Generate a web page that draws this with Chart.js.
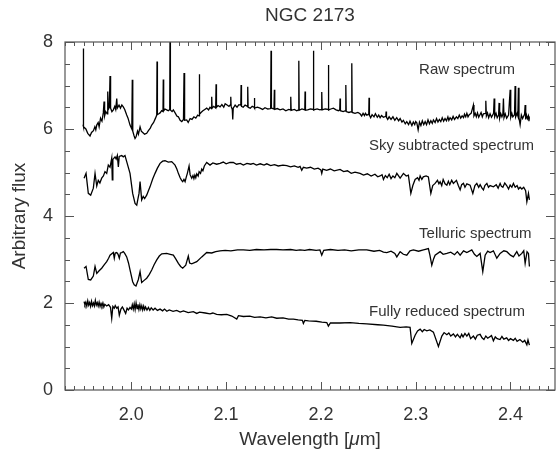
<!DOCTYPE html>
<html>
<head>
<meta charset="utf-8">
<script src="https://cdn.jsdelivr.net/npm/chart.js@4"></script>
<style>
  html, body { margin: 0; padding: 0; background: #fff; }
  #wrap { width: 556px; height: 459px; }
</style>
</head>
<body>
<div id="wrap"><canvas id="myChart" width="556" height="459"></canvas></div>
<script>
// spectra: [wavelength (um), arbitrary flux]
const rawSpectrum = [
  [1.9490, 6.10], [1.9493, 7.85], [1.9497, 6.05], [1.9520, 6.00], [1.9540, 5.90], [1.9564, 5.84], [1.9580, 5.92],
  [1.9600, 5.96], [1.9615, 6.05], [1.9625, 5.98], [1.9635, 6.09], [1.9650, 6.15], [1.9660, 6.05], [1.9675, 6.25],
  [1.9690, 6.18], [1.9704, 6.37], [1.9712, 6.63], [1.9718, 6.30], [1.9730, 6.40], [1.9745, 6.35], [1.9751, 6.86],
  [1.9757, 6.45], [1.9768, 6.50], [1.9775, 7.22], [1.9781, 6.48], [1.9795, 6.40], [1.9810, 6.44], [1.9825, 6.52],
  [1.9835, 6.45], [1.9846, 6.70], [1.9852, 6.48], [1.9870, 6.55], [1.9885, 6.48], [1.9900, 6.55], [1.9915, 6.51],
  [1.9930, 6.45], [1.9951, 6.32], [1.9965, 6.25], [1.9986, 6.09], [2.0005, 6.00], [2.0010, 7.13], [2.0015, 5.95],
  [2.0028, 5.85], [2.0039, 5.78], [2.0050, 5.82], [2.0065, 5.95], [2.0075, 5.88], [2.0092, 6.05], [2.0105, 5.95],
  [2.0120, 5.92], [2.0140, 5.88], [2.0162, 5.90], [2.0180, 5.96], [2.0200, 6.02], [2.0215, 6.09], [2.0235, 6.15],
  [2.0255, 6.25], [2.0268, 6.32], [2.0271, 7.55], [2.0275, 6.33], [2.0290, 6.35], [2.0303, 6.37], [2.0320, 6.42],
  [2.0334, 6.40], [2.0337, 7.14], [2.0341, 6.42], [2.0355, 6.46], [2.0373, 6.44], [2.0390, 6.42], [2.0405, 6.45],
  [2.0408, 8.20], [2.0412, 6.44], [2.0430, 6.40], [2.0443, 6.44], [2.0465, 6.36], [2.0480, 6.30], [2.0496, 6.28],
  [2.0515, 6.20], [2.0532, 6.17], [2.0550, 6.22], [2.0556, 7.29], [2.0562, 6.20], [2.0584, 6.21], [2.0600, 6.15],
  [2.0620, 6.24], [2.0640, 6.22], [2.0660, 6.28], [2.0680, 6.25], [2.0700, 6.32], [2.0714, 6.30], [2.0717, 7.26],
  [2.0721, 6.34], [2.0735, 6.38], [2.0755, 6.42], [2.0775, 6.45], [2.0795, 6.48], [2.0815, 6.44], [2.0830, 6.50],
  [2.0845, 6.47], [2.0848, 6.74], [2.0852, 6.48], [2.0870, 6.52], [2.0890, 6.48], [2.0894, 7.03], [2.0898, 6.50],
  [2.0915, 6.54], [2.0936, 6.51], [2.0955, 6.56], [2.0975, 6.50], [2.0990, 6.58], [2.1010, 6.55], [2.1030, 6.52],
  [2.1046, 6.56], [2.1049, 6.74], [2.1053, 6.52], [2.1065, 6.45], [2.1070, 6.22], [2.1075, 6.48], [2.1095, 6.55],
  [2.1115, 6.50], [2.1135, 6.56], [2.1155, 6.55], [2.1158, 7.01], [2.1162, 6.52], [2.1180, 6.50], [2.1200, 6.55],
  [2.1225, 6.52], [2.1228, 6.97], [2.1232, 6.50], [2.1255, 6.48], [2.1275, 6.52], [2.1295, 6.50], [2.1298, 6.71],
  [2.1302, 6.48], [2.1330, 6.50], [2.1358, 6.48], [2.1385, 6.45], [2.1410, 6.49], [2.1440, 6.46], [2.1470, 6.47],
  [2.1474, 7.80], [2.1478, 6.48], [2.1505, 6.46], [2.1509, 6.90], [2.1513, 6.45], [2.1540, 6.47], [2.1569, 6.44],
  [2.1600, 6.46], [2.1630, 6.42], [2.1660, 6.45], [2.1679, 6.44], [2.1682, 6.74], [2.1686, 6.43], [2.1720, 6.45],
  [2.1745, 6.42], [2.1764, 6.44], [2.1767, 7.57], [2.1771, 6.43], [2.1800, 6.46], [2.1830, 6.44], [2.1833, 6.86],
  [2.1837, 6.43], [2.1860, 6.44], [2.1890, 6.46], [2.1918, 6.45], [2.1921, 7.80], [2.1925, 6.44], [2.1960, 6.46],
  [2.1990, 6.44], [2.2006, 6.45], [2.2009, 6.85], [2.2013, 6.44], [2.2045, 6.46], [2.2076, 6.45], [2.2079, 7.47],
  [2.2083, 6.44], [2.2105, 6.46], [2.2132, 6.48], [2.2160, 6.44], [2.2185, 6.42], [2.2199, 6.44], [2.2202, 6.70],
  [2.2206, 6.42], [2.2235, 6.40], [2.2260, 6.42], [2.2263, 7.01], [2.2267, 6.40], [2.2295, 6.38], [2.2323, 6.40],
  [2.2326, 7.51], [2.2330, 6.38], [2.2360, 6.36], [2.2390, 6.38], [2.2413, 6.35], [2.2430, 6.30], [2.2445, 6.36],
  [2.2460, 6.31], [2.2470, 6.36], [2.2484, 6.32], [2.2505, 6.34], [2.2508, 6.72], [2.2512, 6.32], [2.2525, 6.26],
  [2.2540, 6.33], [2.2560, 6.28], [2.2575, 6.35], [2.2595, 6.27], [2.2610, 6.32], [2.2625, 6.26], [2.2640, 6.31],
  [2.2659, 6.27], [2.2685, 6.29], [2.2688, 6.40], [2.2692, 6.27], [2.2705, 6.22], [2.2720, 6.28], [2.2740, 6.22],
  [2.2760, 6.28], [2.2780, 6.20], [2.2800, 6.26], [2.2820, 6.19], [2.2836, 6.24], [2.2855, 6.16], [2.2870, 6.20],
  [2.2890, 6.12], [2.2906, 6.17], [2.2925, 6.10], [2.2940, 6.18], [2.2960, 6.08], [2.2975, 6.16], [2.2990, 6.10],
  [2.3000, 6.17], [2.3012, 6.14], [2.3026, 5.98], [2.3040, 6.16], [2.3055, 6.08], [2.3070, 6.19], [2.3085, 6.10],
  [2.3100, 6.17], [2.3115, 6.10], [2.3130, 6.21], [2.3145, 6.12], [2.3160, 6.19], [2.3175, 6.13], [2.3187, 6.21],
  [2.3205, 6.15], [2.3220, 6.24], [2.3235, 6.16], [2.3250, 6.22], [2.3265, 6.17], [2.3280, 6.26], [2.3295, 6.18],
  [2.3310, 6.24], [2.3325, 6.19], [2.3340, 6.28], [2.3350, 6.20], [2.3363, 6.26], [2.3380, 6.21], [2.3395, 6.29],
  [2.3410, 6.22], [2.3430, 6.28], [2.3445, 6.24], [2.3460, 6.32], [2.3475, 6.25], [2.3490, 6.30], [2.3505, 6.26],
  [2.3515, 6.34], [2.3528, 6.28], [2.3540, 6.36], [2.3552, 6.28], [2.3565, 6.33], [2.3585, 6.36], [2.3609, 6.55],
  [2.3615, 6.30], [2.3628, 6.36], [2.3640, 6.28], [2.3652, 6.37], [2.3665, 6.27], [2.3690, 6.38], [2.3703, 6.28],
  [2.3715, 6.35], [2.3735, 6.36], [2.3740, 6.65], [2.3746, 6.30], [2.3758, 6.37], [2.3770, 6.26], [2.3785, 6.35],
  [2.3800, 6.27], [2.3822, 6.36], [2.3828, 6.70], [2.3834, 6.28], [2.3848, 6.36], [2.3860, 6.26], [2.3875, 6.32],
  [2.3880, 6.60], [2.3886, 6.25], [2.3898, 6.35], [2.3910, 6.28], [2.3920, 6.34], [2.3926, 6.70], [2.3932, 6.26],
  [2.3945, 6.35], [2.3960, 6.25], [2.3980, 6.32], [2.3997, 6.90], [2.4003, 6.27], [2.4015, 6.36], [2.4025, 6.28],
  [2.4043, 6.33], [2.4049, 6.99], [2.4055, 6.28], [2.4070, 6.36], [2.4078, 6.30], [2.4084, 6.95], [2.4090, 6.26],
  [2.4102, 6.10], [2.4115, 6.32], [2.4128, 6.24], [2.4140, 6.30], [2.4149, 6.34], [2.4155, 6.55], [2.4161, 6.22],
  [2.4170, 6.32], [2.4180, 6.24], [2.4190, 6.30], [2.4195, 6.18], [2.4200, 6.27]
];

const skySubtracted = [
  [1.9501, 4.87], [1.9522, 4.98], [1.9546, 4.52], [1.9571, 4.48], [1.9599, 4.64], [1.9617, 4.98], [1.9635, 4.69],
  [1.9651, 4.82], [1.9668, 4.76], [1.9687, 4.87], [1.9705, 4.92], [1.9722, 5.02], [1.9740, 4.98], [1.9757, 5.17],
  [1.9775, 5.12], [1.9793, 5.33], [1.9799, 4.83], [1.9805, 5.30], [1.9828, 5.36], [1.9840, 5.31], [1.9852, 5.39],
  [1.9863, 5.13], [1.9872, 5.37], [1.9898, 5.39], [1.9915, 5.36], [1.9933, 5.39], [1.9951, 5.25], [1.9986, 4.98],
  [2.0014, 4.52], [2.0039, 4.29], [2.0057, 4.25], [2.0070, 4.40], [2.0081, 4.52], [2.0092, 4.79], [2.0109, 4.37],
  [2.0125, 4.45], [2.0140, 4.40], [2.0162, 4.48], [2.0180, 4.58], [2.0197, 4.67], [2.0225, 4.85], [2.0250, 4.98],
  [2.0275, 5.10], [2.0303, 5.21], [2.0330, 5.26], [2.0355, 5.27], [2.0390, 5.24], [2.0426, 5.25], [2.0461, 5.17],
  [2.0480, 5.08], [2.0496, 4.98], [2.0515, 4.88], [2.0530, 4.82], [2.0542, 4.79], [2.0555, 4.84], [2.0567, 4.79],
  [2.0580, 4.90], [2.0591, 4.98], [2.0609, 5.15], [2.0620, 4.95], [2.0637, 4.87], [2.0650, 4.93], [2.0660, 4.86],
  [2.0670, 4.94], [2.0680, 4.88], [2.0690, 4.97], [2.0705, 4.92], [2.0715, 5.02], [2.0730, 4.98], [2.0743, 5.08],
  [2.0755, 5.04], [2.0770, 5.15], [2.0795, 5.23], [2.0830, 5.17], [2.0860, 5.22], [2.0900, 5.19], [2.0936, 5.21],
  [2.0970, 5.24], [2.1000, 5.20], [2.1040, 5.23], [2.1076, 5.23], [2.1110, 5.19], [2.1150, 5.21], [2.1182, 5.17],
  [2.1220, 5.21], [2.1260, 5.19], [2.1287, 5.21], [2.1320, 5.17], [2.1360, 5.20], [2.1400, 5.17], [2.1429, 5.20],
  [2.1470, 5.16], [2.1510, 5.18], [2.1550, 5.15], [2.1600, 5.17], [2.1640, 5.16], [2.1680, 5.13], [2.1720, 5.15],
  [2.1760, 5.12], [2.1780, 5.14], [2.1798, 5.05], [2.1815, 5.12], [2.1850, 5.10], [2.1890, 5.12], [2.1930, 5.08],
  [2.1970, 5.10], [2.2000, 5.06], [2.2009, 4.98], [2.2020, 5.08], [2.2060, 5.05], [2.2100, 5.08], [2.2140, 5.04],
  [2.2202, 5.07], [2.2240, 5.02], [2.2280, 5.04], [2.2320, 4.98], [2.2360, 5.01], [2.2413, 4.98], [2.2450, 4.94],
  [2.2490, 4.97], [2.2530, 4.92], [2.2570, 4.96], [2.2600, 4.90], [2.2624, 4.92], [2.2645, 4.95], [2.2660, 4.84],
  [2.2680, 4.93], [2.2700, 4.88], [2.2720, 4.96], [2.2740, 4.86], [2.2760, 4.92], [2.2780, 4.88], [2.2801, 4.98],
  [2.2836, 4.87], [2.2871, 4.98], [2.2900, 4.92], [2.2923, 4.94], [2.2949, 4.52], [2.2970, 4.70], [2.2994, 4.84],
  [2.3020, 4.88], [2.3035, 4.82], [2.3047, 4.92], [2.3065, 4.84], [2.3080, 4.90], [2.3110, 4.92], [2.3134, 4.90],
  [2.3160, 4.52], [2.3180, 4.70], [2.3205, 4.75], [2.3230, 4.82], [2.3245, 4.74], [2.3258, 4.79], [2.3275, 4.70],
  [2.3290, 4.84], [2.3310, 4.74], [2.3329, 4.71], [2.3345, 4.80], [2.3360, 4.72], [2.3380, 4.82], [2.3398, 4.75],
  [2.3430, 4.82], [2.3450, 4.70], [2.3469, 4.60], [2.3485, 4.72], [2.3504, 4.75], [2.3520, 4.66], [2.3540, 4.74],
  [2.3574, 4.71], [2.3603, 4.52], [2.3625, 4.70], [2.3645, 4.75], [2.3665, 4.66], [2.3680, 4.72], [2.3700, 4.64],
  [2.3715, 4.60], [2.3730, 4.70], [2.3751, 4.75], [2.3768, 4.66], [2.3785, 4.70], [2.3820, 4.67], [2.3850, 4.72],
  [2.3870, 4.64], [2.3891, 4.75], [2.3905, 4.68], [2.3920, 4.66], [2.3940, 4.76], [2.3960, 4.70], [2.3980, 4.62],
  [2.3997, 4.71], [2.4015, 4.66], [2.4031, 4.75], [2.4050, 4.66], [2.4070, 4.70], [2.4085, 4.62], [2.4102, 4.66],
  [2.4120, 4.62], [2.4140, 4.66], [2.4160, 4.58], [2.4173, 4.33], [2.4190, 4.52], [2.4200, 4.37]
];

const tellSpectrum = [
  [1.9501, 2.80], [1.9522, 2.84], [1.9546, 2.54], [1.9571, 2.53], [1.9599, 2.62], [1.9617, 2.84], [1.9635, 2.68],
  [1.9660, 2.74], [1.9687, 2.80], [1.9715, 2.88], [1.9740, 2.95], [1.9760, 3.03], [1.9775, 3.10], [1.9810, 3.16],
  [1.9820, 3.03], [1.9830, 3.15], [1.9846, 3.16], [1.9860, 3.12], [1.9873, 3.03], [1.9885, 3.15], [1.9898, 3.16],
  [1.9915, 3.18], [1.9930, 3.14], [1.9951, 3.06], [1.9970, 2.92], [1.9986, 2.76], [2.0014, 2.49], [2.0030, 2.42],
  [2.0049, 2.39], [2.0074, 2.54], [2.0092, 2.72], [2.0109, 2.47], [2.0135, 2.52], [2.0162, 2.57], [2.0190, 2.66],
  [2.0215, 2.76], [2.0240, 2.88], [2.0268, 2.99], [2.0295, 3.08], [2.0321, 3.13], [2.0373, 3.14], [2.0410, 3.12],
  [2.0443, 3.10], [2.0470, 3.01], [2.0496, 2.91], [2.0520, 2.84], [2.0542, 2.80], [2.0574, 2.87], [2.0601, 3.08],
  [2.0615, 2.92], [2.0637, 2.90], [2.0690, 2.95], [2.0743, 3.06], [2.0795, 3.16], [2.0848, 3.15], [2.0890, 3.18],
  [2.0936, 3.20], [2.0990, 3.21], [2.1050, 3.20], [2.1120, 3.22], [2.1182, 3.22], [2.1250, 3.21], [2.1320, 3.23],
  [2.1400, 3.22], [2.1470, 3.23], [2.1534, 3.23], [2.1600, 3.22], [2.1680, 3.23], [2.1740, 3.21], [2.1780, 3.22],
  [2.1830, 3.21], [2.1880, 3.23], [2.1950, 3.21], [2.1990, 3.22], [2.2009, 3.10], [2.2030, 3.21], [2.2100, 3.23],
  [2.2180, 3.21], [2.2250, 3.22], [2.2320, 3.20], [2.2400, 3.22], [2.2484, 3.22], [2.2560, 3.19], [2.2620, 3.21],
  [2.2660, 3.17], [2.2695, 3.16], [2.2740, 3.19], [2.2780, 3.14], [2.2801, 3.06], [2.2836, 3.18], [2.2870, 3.12],
  [2.2906, 3.10], [2.2940, 3.20], [2.2976, 3.22], [2.3030, 3.19], [2.3082, 3.22], [2.3134, 3.25], [2.3150, 3.10],
  [2.3170, 2.87], [2.3190, 3.02], [2.3205, 3.10], [2.3258, 3.18], [2.3290, 3.12], [2.3329, 3.14], [2.3370, 3.17],
  [2.3410, 3.11], [2.3440, 3.18], [2.3469, 3.10], [2.3505, 3.20], [2.3540, 3.16], [2.3592, 3.22], [2.3620, 3.12],
  [2.3645, 3.07], [2.3680, 3.14], [2.3708, 2.72], [2.3733, 3.10], [2.3760, 3.19], [2.3785, 3.16], [2.3820, 3.20],
  [2.3856, 3.03], [2.3891, 3.14], [2.3930, 3.20], [2.3962, 3.18], [2.4000, 3.10], [2.4031, 3.06], [2.4067, 3.18],
  [2.4090, 3.08], [2.4120, 3.14], [2.4140, 3.20], [2.4155, 2.91], [2.4175, 3.18], [2.4190, 3.14], [2.4200, 2.84]
];

const reducedSpectrum = [
  [1.9501, 2.03], [1.9510, 1.96], [1.9520, 2.02], [1.9530, 1.93], [1.9540, 2.05], [1.9550, 1.95], [1.9560, 2.01],
  [1.9570, 1.92], [1.9580, 2.04], [1.9590, 1.94], [1.9600, 2.00], [1.9610, 1.93], [1.9620, 2.06], [1.9630, 1.95],
  [1.9640, 2.01], [1.9650, 1.93], [1.9660, 2.02], [1.9670, 1.92], [1.9680, 1.99], [1.9690, 1.93], [1.9700, 2.00],
  [1.9710, 1.91], [1.9720, 1.97], [1.9740, 1.93], [1.9760, 1.96], [1.9780, 1.90], [1.9793, 1.65], [1.9805, 1.92],
  [1.9820, 1.88], [1.9830, 1.94], [1.9846, 1.88], [1.9860, 1.91], [1.9873, 1.72], [1.9890, 1.86], [1.9905, 1.91],
  [1.9915, 1.87], [1.9940, 1.76], [1.9955, 1.88], [1.9970, 1.84], [1.9986, 1.90], [2.0000, 1.86], [2.0010, 1.96],
  [2.0020, 1.86], [2.0030, 1.98], [2.0040, 1.85], [2.0050, 2.00], [2.0060, 1.87], [2.0070, 1.97], [2.0080, 1.85],
  [2.0090, 1.96], [2.0100, 1.86], [2.0110, 1.94], [2.0120, 1.84], [2.0130, 1.93], [2.0140, 1.85], [2.0150, 1.91],
  [2.0165, 1.84], [2.0180, 1.90], [2.0195, 1.83], [2.0210, 1.89], [2.0230, 1.84], [2.0250, 1.88], [2.0275, 1.83],
  [2.0303, 1.86], [2.0330, 1.82], [2.0350, 1.86], [2.0375, 1.81], [2.0400, 1.84], [2.0440, 1.81], [2.0479, 1.83],
  [2.0515, 1.79], [2.0550, 1.82], [2.0600, 1.78], [2.0654, 1.80], [2.0690, 1.76], [2.0720, 1.79], [2.0780, 1.77],
  [2.0830, 1.75], [2.0860, 1.77], [2.0900, 1.74], [2.0950, 1.73], [2.1007, 1.74], [2.1060, 1.70], [2.1112, 1.63],
  [2.1130, 1.71], [2.1182, 1.69], [2.1250, 1.70], [2.1300, 1.67], [2.1358, 1.68], [2.1420, 1.66], [2.1480, 1.68],
  [2.1534, 1.65], [2.1600, 1.66], [2.1660, 1.63], [2.1710, 1.63], [2.1760, 1.61], [2.1805, 1.60], [2.1815, 1.53],
  [2.1830, 1.60], [2.1870, 1.59], [2.1950, 1.58], [2.2010, 1.56], [2.2062, 1.55], [2.2079, 1.47], [2.2100, 1.54],
  [2.2200, 1.54], [2.2308, 1.55], [2.2400, 1.53], [2.2484, 1.52], [2.2600, 1.50], [2.2659, 1.49], [2.2750, 1.47],
  [2.2836, 1.44], [2.2900, 1.45], [2.2941, 1.44], [2.2959, 1.07], [2.2994, 1.26], [2.3020, 1.36], [2.3047, 1.40],
  [2.3070, 1.34], [2.3090, 1.39], [2.3117, 1.36], [2.3150, 1.38], [2.3187, 1.33], [2.3240, 1.00], [2.3276, 1.24],
  [2.3300, 1.32], [2.3329, 1.27], [2.3350, 1.31], [2.3370, 1.24], [2.3398, 1.29], [2.3420, 1.22], [2.3440, 1.28],
  [2.3469, 1.20], [2.3485, 1.28], [2.3500, 1.22], [2.3520, 1.30], [2.3540, 1.24], [2.3560, 1.30], [2.3580, 1.18],
  [2.3609, 1.24], [2.3630, 1.17], [2.3650, 1.26], [2.3680, 1.28], [2.3700, 1.20], [2.3720, 1.16], [2.3740, 1.24],
  [2.3760, 1.19], [2.3800, 1.25], [2.3820, 1.13], [2.3840, 1.22], [2.3860, 1.18], [2.3890, 1.16], [2.3910, 1.23],
  [2.3930, 1.17], [2.3960, 1.20], [2.3980, 1.14], [2.4000, 1.18], [2.4031, 1.14], [2.4050, 1.19], [2.4070, 1.12],
  [2.4100, 1.16], [2.4130, 1.10], [2.4150, 1.14], [2.4173, 1.04], [2.4185, 1.15], [2.4200, 1.03]
];

const seriesLabels = ['Raw spectrum', 'Sky subtracted spectrum', 'Telluric spectrum', 'Fully reduced spectrum'];
// where each caption sits, in data units: [wavelength of left edge, flux]
const labelSpots = [[2.3036, 7.36], [2.2508, 5.62], [2.3036, 3.60], [2.2508, 1.80]];

const xTicks = [2.0, 2.1, 2.2, 2.3, 2.4];
const yTicks = [0, 2, 4, 6, 8];

const FONT = "'Liberation Sans', Arial, Helvetica, sans-serif";
const TEXT = '#333';

// frame, inward ticks, title, axis titles and captions
const decorPlugin = {
  id: 'decor',
  afterDraw(chart) {
    const {ctx, chartArea: a, scales: {x, y}} = chart;
    ctx.save();
    ctx.strokeStyle = '#555';
    ctx.lineWidth = 1.2;
    ctx.strokeRect(a.left, a.top, a.right - a.left, a.bottom - a.top);

    ctx.lineWidth = 1;
    ctx.beginPath();
    for (let i = 193; i <= 244; i++) {
      const px = Math.round(x.getPixelForValue(i / 100)) + 0.5;
      const len = (i % 10 === 0) ? 8 : 4;
      ctx.moveTo(px, a.bottom); ctx.lineTo(px, a.bottom - len);
      ctx.moveTo(px, a.top); ctx.lineTo(px, a.top + len);
    }
    for (let i = 0; i <= 16; i++) {
      const py = Math.round(y.getPixelForValue(i / 2)) + 0.5;
      const len = (i % 4 === 0) ? 9 : 5;
      ctx.moveTo(a.left, py); ctx.lineTo(a.left + len, py);
      ctx.moveTo(a.right, py); ctx.lineTo(a.right - len, py);
    }
    ctx.stroke();

    ctx.fillStyle = TEXT;
    ctx.textBaseline = 'middle';
    ctx.textAlign = 'center';
    ctx.font = '19px ' + FONT;
    const cx = (a.left + a.right) / 2;
    ctx.fillText('NGC 2173', cx, 16);

    // x title with an italic mu, as in the original
    const parts = [['Wavelength [', '19px '], ['\u03bc', 'italic 19px '], ['m]', '19px ']];
    let total = 0;
    parts.forEach(p => { ctx.font = p[1] + FONT; total += ctx.measureText(p[0]).width; });
    let tx = cx - total / 2;
    ctx.textAlign = 'left';
    parts.forEach(p => {
      ctx.font = p[1] + FONT;
      ctx.fillText(p[0], tx, 440);
      tx += ctx.measureText(p[0]).width;
    });

    ctx.textAlign = 'center';
    ctx.font = '19px ' + FONT;
    ctx.save();
    ctx.translate(20, (a.top + a.bottom) / 2);
    ctx.rotate(-Math.PI / 2);
    ctx.fillText('Arbitrary flux', 0, 0);
    ctx.restore();

    ctx.textAlign = 'left';
    ctx.font = '15px ' + FONT;
    seriesLabels.forEach((t, i) => {
      const [wx, fy] = labelSpots[i];
      ctx.fillText(t, x.getPixelForValue(wx), y.getPixelForValue(fy));
    });
    ctx.restore();
  }
};

const makeSet = (label, points) => ({
  label: label,
  data: points,
  borderColor: '#000',
  borderWidth: 1.3,
  pointRadius: 0,
  tension: 0,
  fill: false
});

new Chart(document.getElementById('myChart'), {
  type: 'line',
  data: {
    datasets: [
      makeSet(seriesLabels[0], rawSpectrum),
      makeSet(seriesLabels[1], skySubtracted),
      makeSet(seriesLabels[2], tellSpectrum),
      makeSet(seriesLabels[3], reducedSpectrum)
    ]
  },
  options: {
    responsive: false,
    animation: false,
    layout: { padding: { top: 42, right: 1, left: 0, bottom: 0 } },
    plugins: {
      legend: { display: false },
      tooltip: { enabled: false }
    },
    scales: {
      x: {
        type: 'linear',
        min: 1.93,
        max: 2.447,
        afterFit: s => { s.height = 69; },
        afterBuildTicks: s => { s.ticks = xTicks.map(v => ({ value: v })); },
        grid: { display: false, drawTicks: false },
        border: { display: false },
        ticks: {
          padding: 14,
          color: TEXT,
          font: { family: FONT, size: 18 },
          maxRotation: 0,
          callback: v => v.toFixed(1)
        }
      },
      y: {
        type: 'linear',
        min: 0,
        max: 8,
        afterFit: s => { s.width = 65; },
        afterBuildTicks: s => { s.ticks = yTicks.map(v => ({ value: v })); },
        grid: { display: false, drawTicks: false },
        border: { display: false },
        ticks: {
          padding: 12,
          color: TEXT,
          font: { family: FONT, size: 18 },
          callback: v => String(v)
        }
      }
    }
  },
  plugins: [decorPlugin]
});
</script>
</body>
</html>
